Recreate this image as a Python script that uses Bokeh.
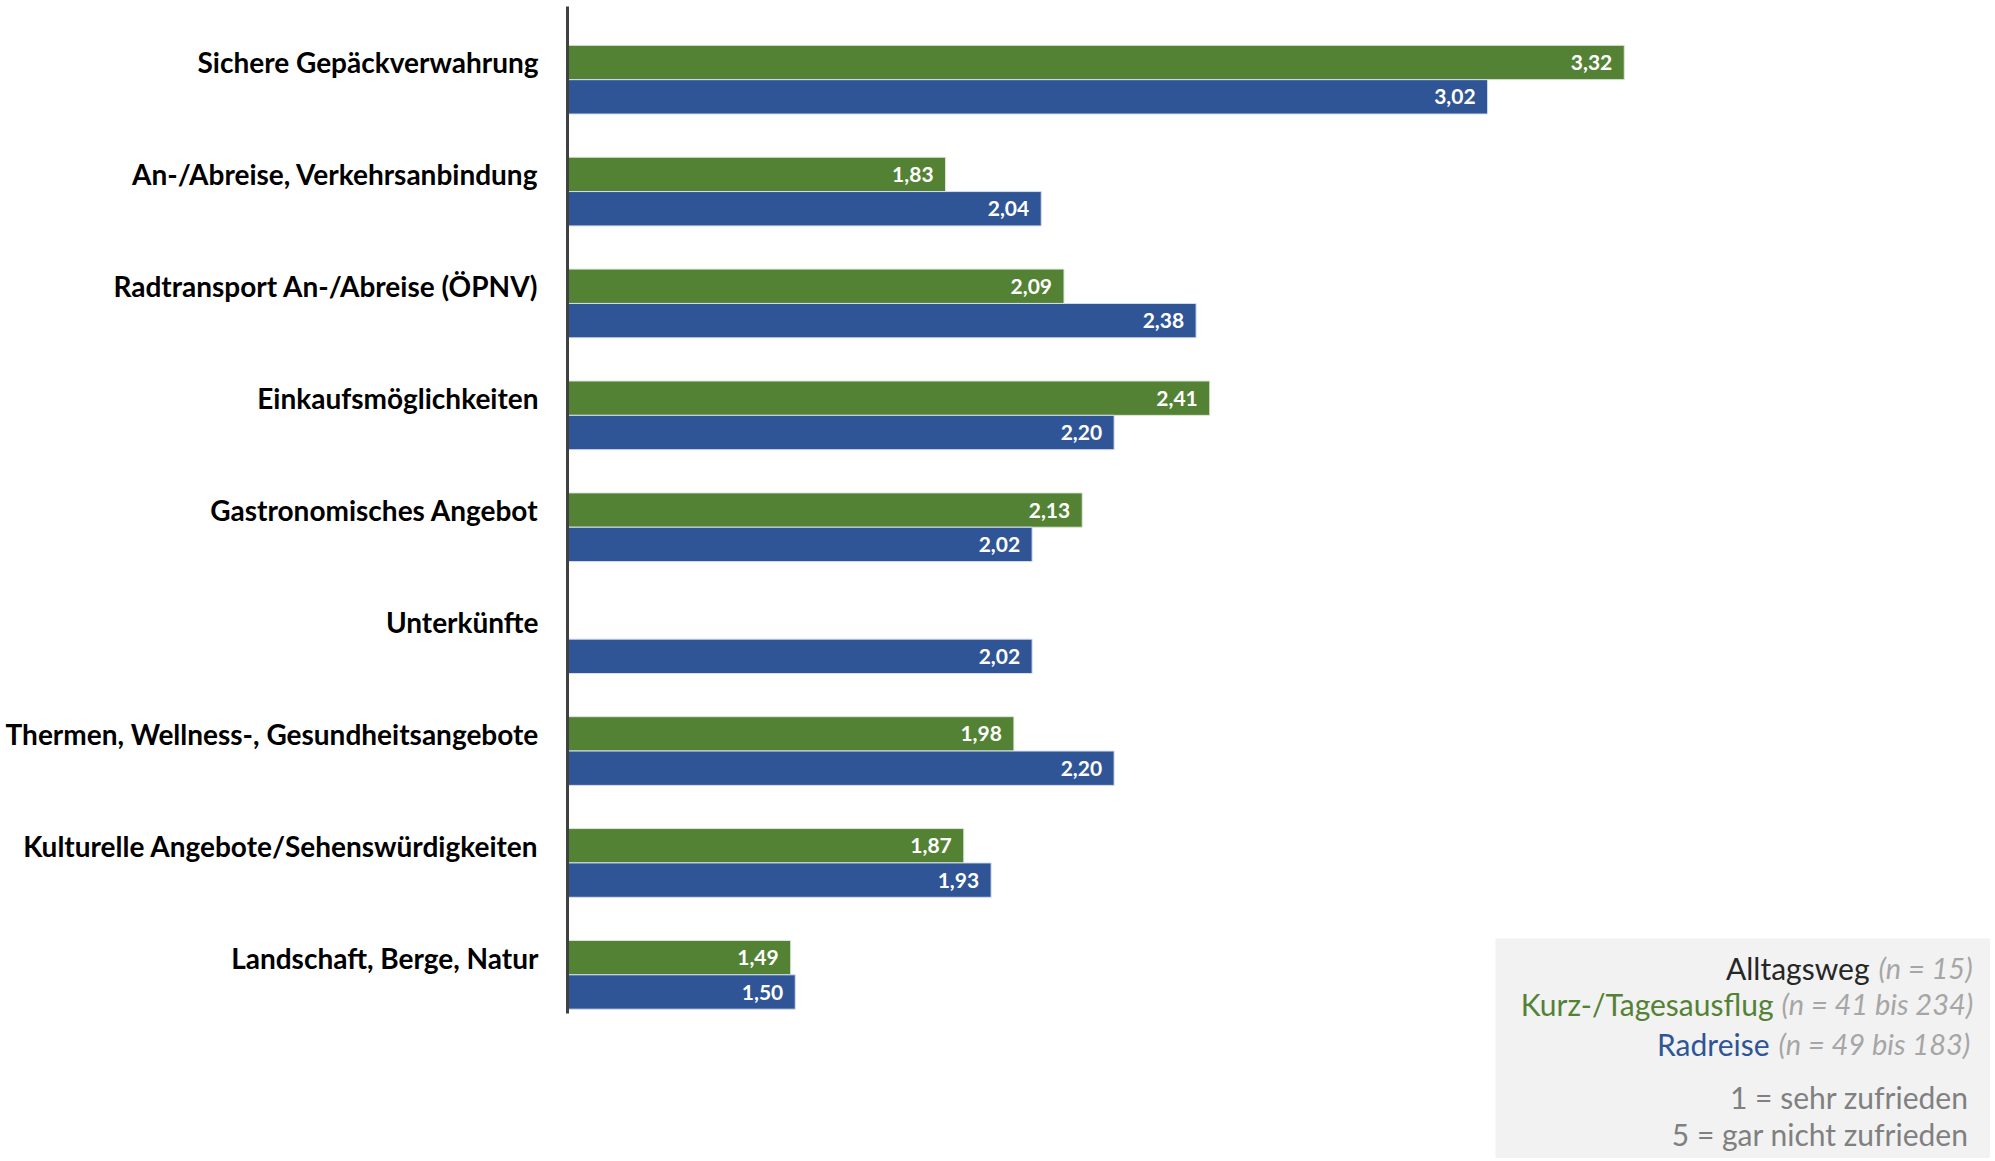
from bokeh.plotting import figure
from bokeh.models import ColumnDataSource, Range1d, FixedTicker, Label, BoxAnnotation
from bokeh.transform import dodge
from bokeh.core.properties import value
from bokeh.embed import file_html
from bokeh.resources import INLINE

categories = [
    "Sichere Gepäckverwahrung",
    "An-/Abreise, Verkehrsanbindung",
    "Radtransport An-/Abreise (ÖPNV)",
    "Einkaufsmöglichkeiten",
    "Gastronomisches Angebot",
    "Unterkünfte",
    "Thermen, Wellness-, Gesundheitsangebote",
    "Kulturelle Angebote/Sehenswürdigkeiten",
    "Landschaft, Berge, Natur",
]
kurz_tagesausflug = [3.32, 1.83, 2.09, 2.41, 2.13, None, 1.98, 1.87, 1.49]
radreise = [3.02, 2.04, 2.38, 2.20, 2.02, 2.02, 2.20, 1.93, 1.50]

legend_series = ["Alltagsweg", "Kurz-/Tagesausflug", "Radreise"]
legend_n = ["(n = 15)", "(n = 41 bis 234)", "(n = 49 bis 183)"]
scale_notes = ["1 = sehr zufrieden", "5 = gar nicht zufrieden"]

GREEN = "#548235"
BLUE = "#2F5597"
BAR_H = 0.307
FONT = "Lato"

def fmt(v):
    return f"{v:.2f}".replace(".", ",")

g_idx = [i for i, v in enumerate(kurz_tagesausflug) if v is not None]
src_g = ColumnDataSource(dict(
    y=g_idx,
    val=[kurz_tagesausflug[i] for i in g_idx],
    lbl=[fmt(kurz_tagesausflug[i]) for i in g_idx],
))
src_b = ColumnDataSource(dict(
    y=list(range(len(categories))),
    val=radreise,
    lbl=[fmt(v) for v in radreise],
))

n = len(categories)
p = figure(width=1990, height=1158, output_backend="svg", toolbar_location=None,
           x_range=Range1d(0.9956, 4.124), y_range=Range1d(9.795, -0.554),
           min_border_left=565, min_border_right=0, min_border_top=0, min_border_bottom=0,
           x_axis_location=None)
p.outline_line_color = None
p.xgrid.visible = False
p.ygrid.visible = False
p.background_fill_color = "white"

yax = p.yaxis[0]
yax.ticker = FixedTicker(ticks=list(range(n)))
yax.major_label_overrides = {i: c for i, c in enumerate(categories)}
yax.axis_line_color = None
yax.major_tick_line_color = None
yax.minor_tick_line_color = None
yax.major_tick_out = 0
yax.major_label_standoff = 27
yax.major_label_text_font = FONT
yax.major_label_text_font_style = "bold"
yax.major_label_text_font_size = "28px"
yax.major_label_text_color = "black"

p.hbar(y="y", left=1, right="val", height=BAR_H, source=src_g,
       fill_color=GREEN, line_color="#dfe6da", line_width=1)
p.hbar(y=dodge("y", BAR_H, range=p.y_range), left=1, right="val", height=BAR_H, source=src_b,
       fill_color=BLUE, line_color="#d5deec", line_width=1)

p.text(x="val", y="y", text="lbl", source=src_g, x_offset=-12,
       text_align="right", text_baseline="middle", text_color="white",
       text_font=value(FONT), text_font_style="bold", text_font_size="21px")
p.text(x="val", y=dodge("y", BAR_H, range=p.y_range), text="lbl", source=src_b, x_offset=-12,
       text_align="right", text_baseline="middle", text_color="white",
       text_font=value(FONT), text_font_style="bold", text_font_size="21px")

# vertical axis line
p.segment(x0=[1], y0=[-0.5], x1=[1], y1=[n - 0.5], line_color="#404040", line_width=3)

# legend box (screen units relative to frame)
p.add_layout(BoxAnnotation(left=930, right=1500, bottom=-20, top=220,
                           left_units="screen", right_units="screen",
                           bottom_units="screen", top_units="screen",
                           fill_color="#f2f2f2", fill_alpha=1.0, line_color=None))

name_colors = ["#262626", GREEN, BLUE]
name_right = [1304, 1208, 1204]
n_left = [1313, 1216, 1213]
baselines = [191, 155, 115]
for nm, col, nr, nl, b, nt in zip(legend_series, name_colors, name_right, n_left, baselines, legend_n):
    p.add_layout(Label(x=nr, y=b, x_units="screen", y_units="screen", text=nm,
                       text_align="right", text_baseline="alphabetic", text_color=col,
                       text_font=FONT, text_font_size="30px"))
    p.add_layout(Label(x=nl, y=b, x_units="screen", y_units="screen", text=nt,
                       text_align="left", text_baseline="alphabetic", text_color="#a6a6a6",
                       text_font=FONT, text_font_style="italic", text_font_size="29px"))
for t, b in zip(scale_notes, [62, 25]):
    p.add_layout(Label(x=1403, y=b, x_units="screen", y_units="screen", text=t,
                       text_align="right", text_baseline="alphabetic", text_color="#808080",
                       text_font=FONT, text_font_size="30px"))

open("out.html", "w").write(file_html(p, INLINE))
